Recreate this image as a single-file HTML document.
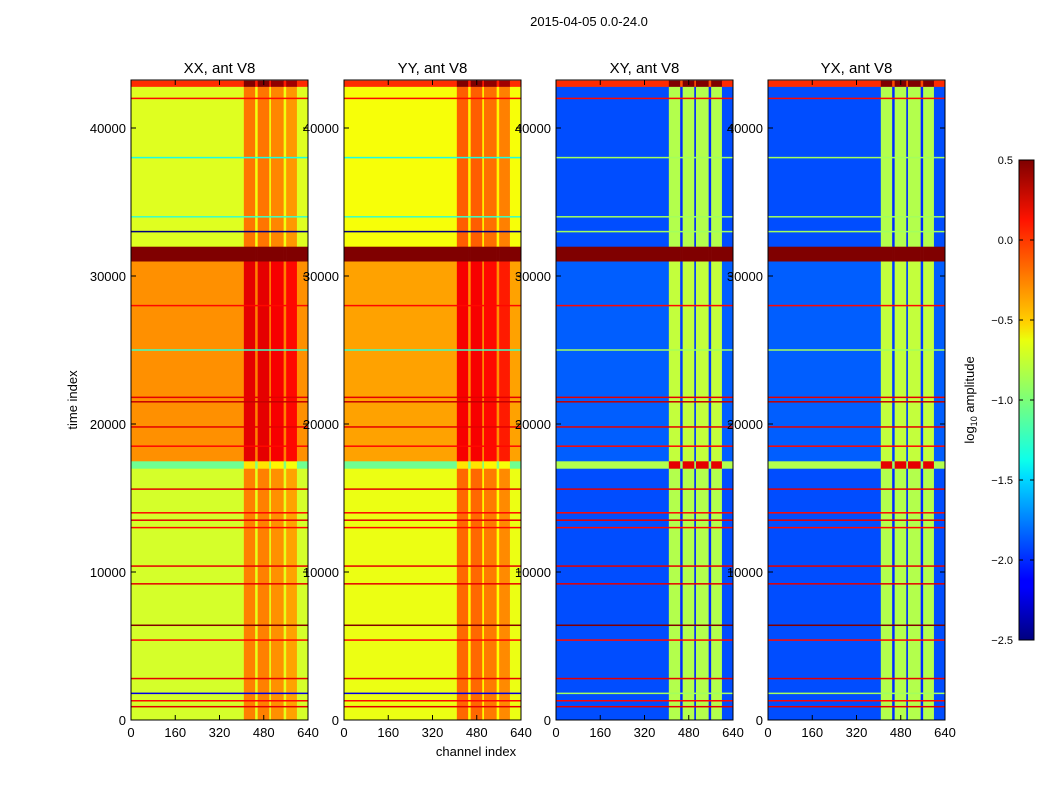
<!DOCTYPE html>
<html><head><meta charset="utf-8"><style>
body{margin:0;background:#fff;width:1050px;height:800px;overflow:hidden;font-family:"Liberation Sans",sans-serif}
</style></head><body>
<svg id="fig" width="1050" height="800" xmlns="http://www.w3.org/2000/svg" font-family="Liberation Sans, sans-serif">
<text x="589" y="26" font-size="13" text-anchor="middle">2015-04-05 0.0-24.0</text>
<text x="476" y="756" font-size="13" text-anchor="middle">channel index</text>
<text transform="translate(77,400) rotate(-90)" font-size="13" text-anchor="middle">time index</text>
<defs><linearGradient id="jetg" x1="0" y1="1" x2="0" y2="0">
<stop offset="0" stop-color="#00007f"/><stop offset="0.11" stop-color="#0000ff"/><stop offset="0.125" stop-color="#0000ff"/><stop offset="0.34" stop-color="#00ddff"/><stop offset="0.375" stop-color="#0dffea"/><stop offset="0.5" stop-color="#7cff79"/><stop offset="0.625" stop-color="#eaff0d"/><stop offset="0.66" stop-color="#ffd200"/><stop offset="0.875" stop-color="#ff1300"/><stop offset="1" stop-color="#7f0000"/></linearGradient></defs>
<g id="panels"></g>
<rect x="1019" y="160" width="15" height="480" fill="url(#jetg)" stroke="#000"/>
<g id="cbticks"></g>
<text transform="translate(974,400) rotate(-90)" font-size="13" text-anchor="middle">log<tspan font-size="9" dy="3">10</tspan><tspan dy="-3"> amplitude</tspan></text>
</svg>
<script>
const titles=["XX, ant V8","YY, ant V8","XY, ant V8","YX, ant V8"];
const segBounds=[0,17000,17500,31000,32000,42800,43200];
const xxSeg=[-0.75,-1.05,-0.3,0.6,-0.72,0.0];
const yySeg=[-0.68,-1.05,-0.35,0.6,-0.65,0.0];
const xySeg=[-1.9,-0.85,-1.85,0.6,-1.9,0.0];
const yxSeg=[-1.9,-0.85,-1.85,0.6,-1.9,0.0];
const chanBounds=[0,408,449,458,500,506,552,561,600,640];
const autoChan=[0,0.5,0.05,0.5,0.05,0.45,0.05,0.4,0.0];
const crossChan=[0,1.05,-0.1,1.05,-0.1,1.05,-0.1,1.05,0];
const lineTimes=[900,1300,1800,2800,5400,6400,9200,10400,13000,13500,14000,15600,18500,19800,21500,21800,25000,28000,33000,34000,38000,42000];
const lineVals=[0.2,0.1,-2.2,0.2,0.1,0.5,0.2,0.2,0.1,0.2,0.1,0.2,0.1,0.2,0.3,0.2,-1.2,0.1,-2.5,-1.2,-1.3,0.1];
const yTicks=[0,10000,20000,30000,40000];
const xTicks=[0,160,320,480,640];
const cbTicks=[0.5,0.0,-0.5,-1.0,-1.5,-2.0,-2.5];
const panelX=[131,344,556,768],PW=177,PT=80,PB=720,TMAX=43243;
const segs=[xxSeg,yySeg,xySeg,yxSeg],chans=[autoChan,autoChan,crossChan,crossChan];
function jet(v){let t=(v+2.5)/3;t=Math.max(0,Math.min(1,t));
 const r=Math.max(0,Math.min(1,1.5-Math.abs(4*t-3))),g=Math.max(0,Math.min(1,1.5-Math.abs(4*t-2))),b=Math.max(0,Math.min(1,1.5-Math.abs(4*t-1)));
 return `rgb(${Math.round(r*255)},${Math.round(g*255)},${Math.round(b*255)})`;}
const NS="http://www.w3.org/2000/svg";
function el(tag,a,parent){const e=document.createElementNS(NS,tag);for(const k in a)e.setAttribute(k,a[k]);parent.appendChild(e);return e;}
const G=document.getElementById('panels');
for(let p=0;p<4;p++){
 const x0=panelX[p];
 const xs=c=>x0+c/640*PW, ys=t=>PB-t/TMAX*(PB-PT);
 const g=el('g',{},G);
 
 
 for(let i=0;i<segBounds.length-1;i++)for(let j=0;j<chanBounds.length-1;j++){
  const v=segs[p][i]+chans[p][j];
  const r=el('rect',{x:xs(chanBounds[j]),y:ys(segBounds[i+1]),width:xs(chanBounds[j+1])-xs(chanBounds[j])+0.3,height:ys(segBounds[i])-ys(segBounds[i+1])+0.3,fill:jet(v)},g);
  
  
 }
 for(let k=0;k<lineTimes.length;k++){
  const v=p>=2&&lineVals[k]<-1?-0.9:lineVals[k];
  const r=el('rect',{x:x0,y:ys(lineTimes[k])-0.75,width:PW,height:1.5,fill:jet(v)},g);
  
  
 }
 el('rect',{x:x0,y:PT,width:PW,height:PB-PT,fill:'none',stroke:'#000'},g);
 const t=el('text',{x:x0+PW/2,y:73,'font-size':15,'text-anchor':'middle'},g);t.textContent=titles[p];
 
 
 for(const v of xTicks){const x=xs(v);el('line',{x1:x,x2:x,y1:PB,y2:PB-5,stroke:'#000'},g);el('line',{x1:x,x2:x,y1:PT,y2:PT+5,stroke:'#000'},g);
  const tt=el('text',{x:x,y:PB+17,'font-size':13,'text-anchor':'middle'},g);tt.textContent=v;
  
  }
 for(const v of yTicks){const y=ys(v);el('line',{x1:x0,x2:x0+5,y1:y,y2:y,stroke:'#000'},g);el('line',{x1:x0+PW,x2:x0+PW-5,y1:y,y2:y,stroke:'#000'},g);
  const tt=el('text',{x:x0-5,y:y+5,'font-size':13,'text-anchor':'end'},g);tt.textContent=v;
  
  }
}
const CB=document.getElementById('cbticks');
for(const v of cbTicks){const y=640-(v+2.5)/3*480;
 el('line',{x1:1019,x2:1023,y1:y,y2:y,stroke:'#000'},CB);el('line',{x1:1030,x2:1034,y1:y,y2:y,stroke:'#000'},CB);
 const tt=el('text',{x:1013,y:y+4,'font-size':11,'text-anchor':'end'},CB);tt.textContent=(v<0?'\u2212':'')+Math.abs(v).toFixed(1);
 
 }
</script>
</body></html>
